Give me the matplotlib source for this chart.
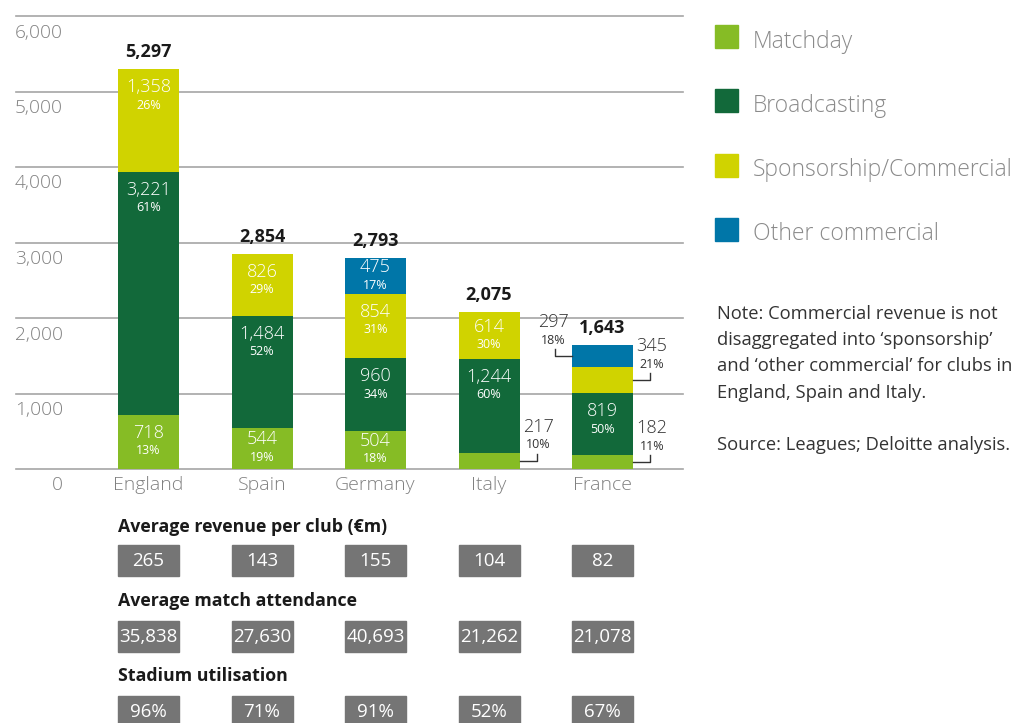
import matplotlib
matplotlib.use('Agg')
import matplotlib.pyplot as plt
from matplotlib.patches import Rectangle

plt.rcParams['font.family'] = ['Open Sans', 'DejaVu Sans']

countries = ['England', 'Spain', 'Germany', 'Italy', 'France']
matchday = [718, 544, 504, 217, 182]
broadcasting = [3221, 1484, 960, 1244, 819]
sponsorship = [1358, 826, 854, 614, 345]
other_commercial = [0, 0, 475, 0, 297]
totals = [5297, 2854, 2793, 2075, 1643]
pct_matchday = [13, 19, 18, 10, 11]
pct_broadcasting = [61, 52, 34, 60, 50]
pct_sponsorship = [26, 29, 31, 30, 21]
pct_other = [0, 0, 17, 0, 18]
y_ticks = [0, 1000, 2000, 3000, 4000, 5000, 6000]

revenue_per_club = ['265', '143', '155', '104', '82']
attendance = ['35,838', '27,630', '40,693', '21,262', '21,078']
utilisation = ['96%', '71%', '91%', '52%', '67%']

series = [
    ('Matchday', matchday, pct_matchday, '#86bc25'),
    ('Broadcasting', broadcasting, pct_broadcasting, '#12693a'),
    ('Sponsorship/Commercial', sponsorship, pct_sponsorship, '#d0d300'),
    ('Other commercial', other_commercial, pct_other, '#0076a8'),
]
# small segments labelled outside the bar: (country index, series index) -> side
callouts = {(3, 0): 'right', (4, 0): 'right', (4, 2): 'right', (4, 3): 'left'}

W, H = 1017, 723
fig = plt.figure(figsize=(W / 100, H / 100), dpi=100)

# main bar chart
ax = fig.add_axes([16 / W, 1 - 469 / H, 667 / W, 453 / H])
pxx = 113.5                  # pixels per category
pxy = 453 / 6000             # pixels per unit
xlo = -(148.5 - 16) / pxx
ax.set_xlim(xlo, xlo + 667 / pxx)
ax.set_ylim(0, 6000)
ax.axis('off')
bw = 61 / pxx
gray = '#808080'
dark = '#333333'

for v in y_ticks:
    ax.axhline(v, color='#a5a5a5', lw=1.2, zorder=0, clip_on=False)
    ax.annotate(f'{v:,}', (0, v), xycoords=('axes fraction', 'data'), xytext=(47, -16.5),
                textcoords='offset pixels', ha='right', va='center', color=gray,
                fontsize=13.8, fontweight='light')

x = list(range(len(countries)))
bottoms = [0] * len(countries)
for k, (name, vals, pcts, col) in enumerate(series):
    ax.bar(x, vals, bw, bottom=bottoms, color=col, zorder=2)
    for i in x:
        v = vals[i]
        if v == 0:
            continue
        bot = bottoms[i]
        top = bot + v
        side = callouts.get((i, k))
        if side is None:
            d = min(v * pxy / 2, 27)
            ax.annotate(f'{v:,}', (i, top), xytext=(0, -d + 9), textcoords='offset pixels',
                        ha='center', va='center', color='white', fontsize=13, fontweight='light')
            ax.annotate(f'{pcts[i]}%', (i, top), xytext=(0, -d - 9), textcoords='offset pixels',
                        ha='center', va='center', color='white', fontsize=9)
        else:
            s = 1 if side == 'right' else -1
            mid = bot + v / 2
            xe = i + s * bw / 2
            x2 = xe + s * 17 / pxx
            ax.plot([xe, x2, x2], [mid, mid, mid + 7 / pxy], color=dark, lw=1, clip_on=False, zorder=3)
            ax.annotate(f'{v:,}', (x2, mid), xytext=(s * 2, 34), textcoords='offset pixels',
                        ha='center', va='center', color=dark, fontsize=13, fontweight='light')
            ax.annotate(f'{pcts[i]}%', (x2, mid), xytext=(s * 2, 16), textcoords='offset pixels',
                        ha='center', va='center', color=dark, fontsize=9)
    bottoms = [b + v for b, v in zip(bottoms, vals)]

for i, t in enumerate(totals):
    ax.annotate(f'{t:,}', (i, t), xytext=(0, 17), textcoords='offset pixels', ha='center',
                va='center', fontsize=13, fontweight='bold', color='#1a1a1a')
for i, c in enumerate(countries):
    ax.annotate(c, (i, 0), xytext=(0, -16), textcoords='offset pixels', ha='center',
                va='center', color=gray, fontsize=14, fontweight='light')

# table of club figures under the bars
tab = fig.add_axes([16 / W, 0, 667 / W, 1])
tab.set_xlim(ax.get_xlim())
tab.set_ylim(H, 0)
tab.axis('off')
rows = [('Average revenue per club (€m)', revenue_per_club),
        ('Average match attendance', attendance),
        ('Stadium utilisation', utilisation)]
header_y = [527, 601, 676]
box_top = [545, 621, 696]
for r, (title, vals) in enumerate(rows):
    tab.text(-bw / 2, header_y[r], title, ha='left', va='center', fontsize=12.8,
             fontweight='bold', color='#1a1a1a')
    for i, val in enumerate(vals):
        tab.add_patch(Rectangle((i - bw / 2, box_top[r]), bw, 31, color='#757575', clip_on=False))
        tab.text(i, box_top[r] + 16, val, ha='center', va='center', color='white', fontsize=13.5,
                 family=['Liberation Sans Narrow', 'Open Sans'])

# legend and note on the right
lay = fig.add_axes([0, 0, 1, 1])
lay.set_xlim(0, W)
lay.set_ylim(H, 0)
lay.axis('off')
leg_y = [36.5, 100.5, 165, 229]
for (name, vals, pcts, col), yc in zip(series, leg_y):
    lay.add_patch(Rectangle((715, yc - 11.5), 23, 23, color=col))
    lay.text(753, yc + 11.5, name, ha='left', va='baseline', fontsize=16.5, color='#8a8a8a',
             fontweight='light')

note_lines = ['Note: Commercial revenue is not',
              'disaggregated into ‘sponsorship’',
              'and ‘other commercial’ for clubs in',
              'England, Spain and Italy.',
              '',
              'Source: Leagues; Deloitte analysis.']
for j, line in enumerate(note_lines):
    lay.text(717, 319 + 26.2 * j, line, ha='left', va='baseline', fontsize=13.2, color=dark)

fig.savefig('out.png', dpi=100)
